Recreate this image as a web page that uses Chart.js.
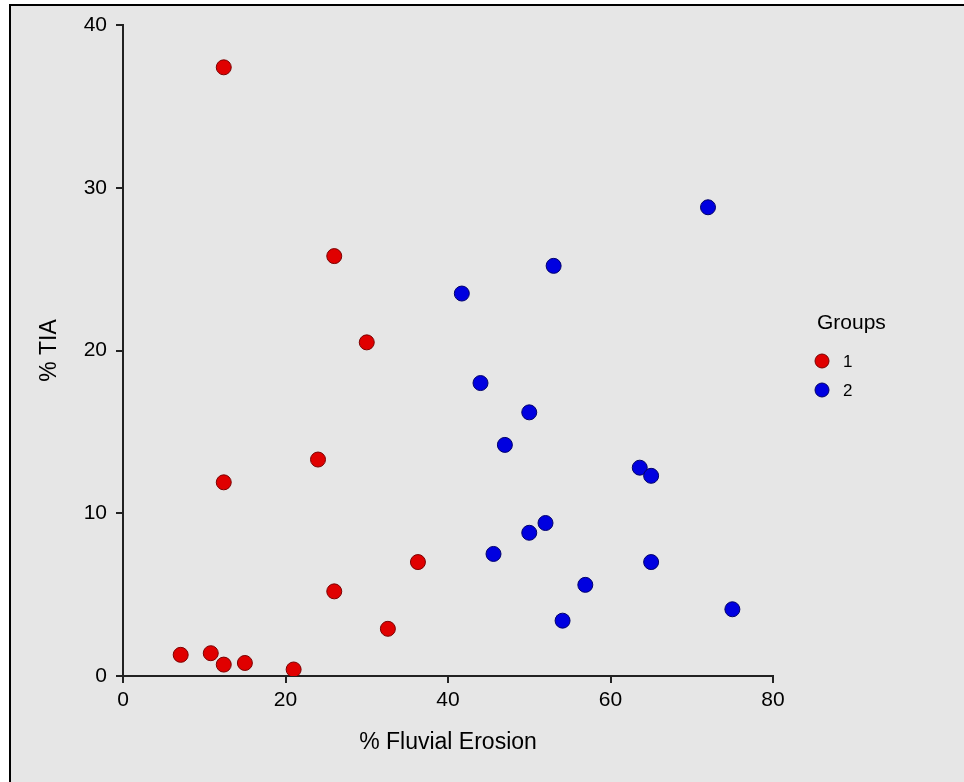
<!DOCTYPE html>
<html>
<head>
<meta charset="utf-8">
<script src="https://cdn.jsdelivr.net/npm/chart.js@4.4.0/dist/chart.umd.min.js"></script>
<style>
  html, body { margin: 0; padding: 0; background: #ffffff; }
  #frame { position: absolute; left: 9px; top: 4px; width: 960px; height: 778px;
           border-top: 2px solid #000; border-left: 2px solid #000; border-bottom: 1px solid #c8c8c8;
           background: #e6e6e6; }
  #wrap { position: absolute; left: 0; top: 0; width: 964px; height: 782px; }
</style>
</head>
<body>
<div id="frame"></div>
<div id="wrap"><canvas id="c" width="964" height="782"></canvas></div>
<script>
// ---- data ----
const groupNames = ["1", "2"];
const group1X = [7.1, 10.8, 12.4, 15.0, 21.0, 12.4, 12.4, 24.0, 26.0, 30.0, 26.0, 36.3, 32.6];
const group1Y = [1.3, 1.4, 0.7, 0.8, 0.4, 37.4, 11.9, 13.3, 25.8, 20.5, 5.2, 7.0, 2.9];
const group2X = [41.7, 53.0, 44.0, 50.0, 47.0, 45.6, 50.0, 52.0, 56.9, 54.1, 72.0, 63.6, 65.0, 65.0, 75.0];
const group2Y = [23.5, 25.2, 18.0, 16.2, 14.2, 7.5, 8.8, 9.4, 5.6, 3.4, 28.8, 12.8, 12.3, 7.0, 4.1];
const xTicks = [0, 20, 40, 60, 80];
const yTicks = [0, 10, 20, 30, 40];
const xTitle = "% Fluvial Erosion";
const yTitle = "% TIA";
const legendTitle = "Groups";

const toPts = (xs, ys) => xs.map((x, i) => ({ x: x, y: ys[i] }));
const FONT = "'Liberation Sans', Arial, sans-serif";

const legendPlugin = {
  id: 'customLegend',
  afterDraw(chart) {
    const ctx = chart.ctx;
    ctx.save();
    ctx.font = "21px " + FONT;
    ctx.fillStyle = "#000";
    ctx.textBaseline = "middle";
    ctx.textAlign = "left";
    ctx.fillText(legendTitle, 817, 323);
    chart.data.datasets.forEach((ds, i) => {
      const y = 361 + i * 29;
      ctx.beginPath();
      ctx.arc(822, y, 7, 0, Math.PI * 2);
      ctx.fillStyle = ds.backgroundColor;
      ctx.fill();
      ctx.lineWidth = 1;
      ctx.strokeStyle = ds.borderColor;
      ctx.stroke();
      ctx.fillStyle = "#000";
      ctx.font = "17px " + FONT;
      ctx.fillText(ds.label, 843, y + 1);
    });
    ctx.restore();
  }
};

new Chart(document.getElementById('c'), {
  type: 'scatter',
  data: {
    datasets: [
      { label: groupNames[0], data: toPts(group1X, group1Y),
        backgroundColor: '#e00000', borderColor: '#7a0000', borderWidth: 1, pointRadius: 7.5, pointHoverRadius: 7.5 },
      { label: groupNames[1], data: toPts(group2X, group2Y),
        backgroundColor: '#0000e0', borderColor: '#00006a', borderWidth: 1, pointRadius: 7.5, pointHoverRadius: 7.5 }
    ]
  },
  options: {
    responsive: false,
    animation: false,
    events: [],
    layout: { padding: { top: 25, right: 191, left: 0, bottom: 0 } },
    plugins: { legend: { display: false }, tooltip: { enabled: false } },
    scales: {
      x: {
        type: 'linear', min: 0, max: 80,
        afterBuildTicks: (s) => { s.ticks = xTicks.map(v => ({ value: v })); },
        afterFit: (s) => { s.height = 106; },
        grid: { display: true, drawOnChartArea: false, drawTicks: true, tickLength: 7, color: '#222', lineWidth: 2 },
        border: { display: true, color: '#222', width: 2 },
        ticks: { color: '#000', font: { size: 21, family: FONT }, padding: 5 },
        title: { display: true, text: xTitle, color: '#000', font: { size: 23, family: FONT }, padding: { top: 0, bottom: 26 } }
      },
      y: {
        type: 'linear', min: 0, max: 40,
        afterBuildTicks: (s) => { s.ticks = yTicks.map(v => ({ value: v })); },
        afterFit: (s) => { s.width = 123; },
        grid: { display: true, drawOnChartArea: false, drawTicks: true, tickLength: 7, color: '#222', lineWidth: 2 },
        border: { display: true, color: '#222', width: 2 },
        ticks: { color: '#000', font: { size: 21, family: FONT }, padding: 9 },
        title: { display: true, text: yTitle, color: '#000', font: { size: 23, family: FONT }, padding: { top: 36, bottom: 0 } }
      }
    }
  },
  plugins: [legendPlugin]
});
</script>
</body>
</html>
